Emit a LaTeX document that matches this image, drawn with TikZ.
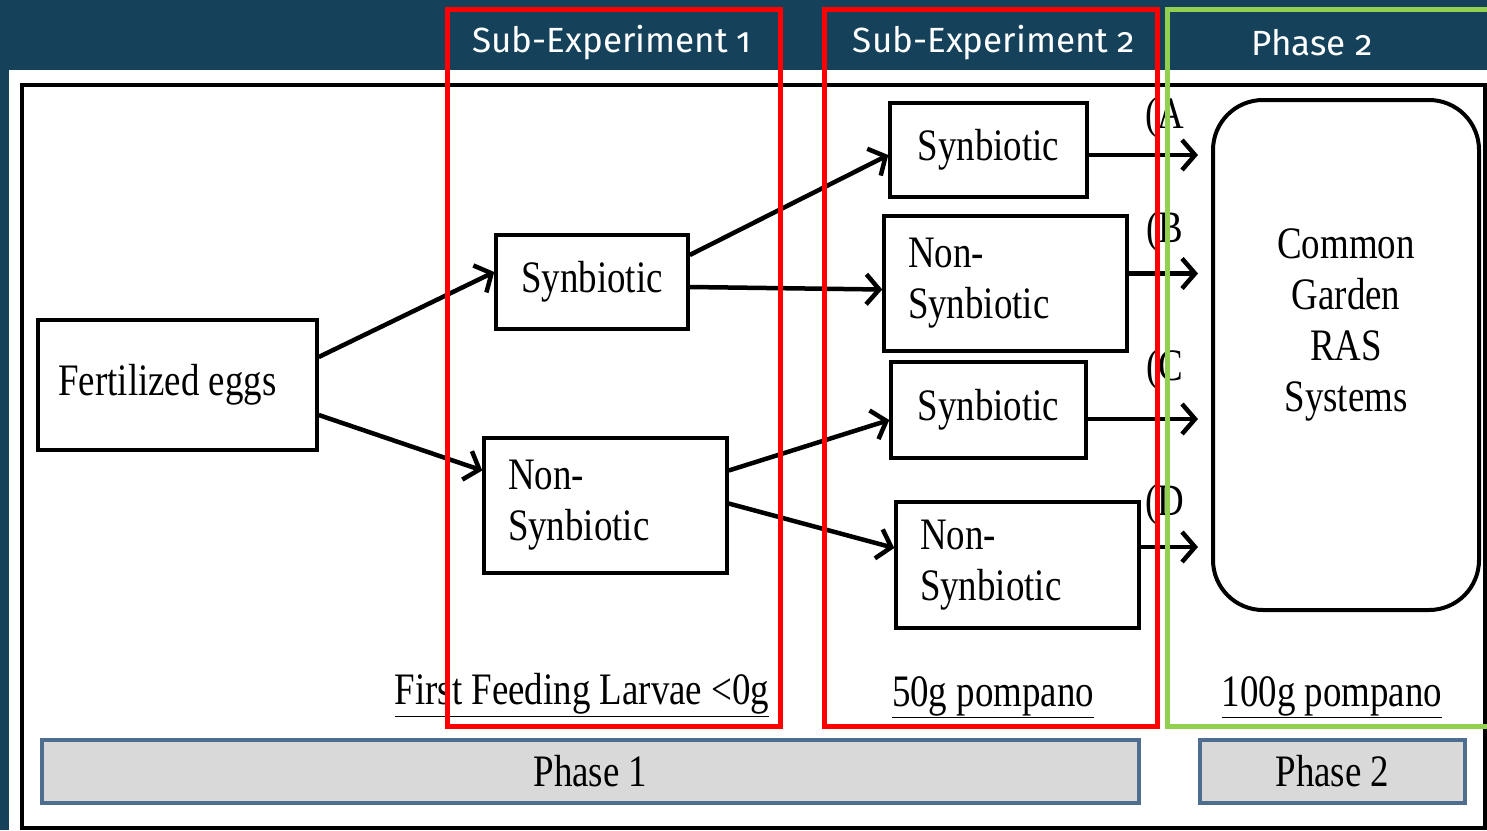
\documentclass[tikz,border=0pt]{standalone}
\usepackage{fontspec}
\setmainfont{Liberation Serif}
\newfontfamily\diagfont[FakeStretch=0.82]{Liberation Serif}
\newfontfamily\headfont[Numbers=OldStyle]{Fira Sans}
\usetikzlibrary{arrows.meta}
\definecolor{bandblue}{HTML}{15425A}
\definecolor{barline}{HTML}{4F6D8F}
\definecolor{barfill}{HTML}{D9D9D9}
\definecolor{phasegreen}{HTML}{92D050}
\begin{document}
\begin{tikzpicture}[x=1pt, y=-1pt,
  box/.style={draw, line width=3.5pt, inner sep=0pt, font=\diagfont\fontsize{45}{51}\selectfont},
  twoline/.style={box, align=left, inner xsep=24pt, text width=#1},
  arr/.style={line width=4.5pt, -{Straight Barb[length=13pt,width=30pt]}},
  bar/.style={draw=barline, fill=barfill, line width=4pt, inner sep=0pt, font=\diagfont\fontsize{45}{51}\selectfont},
  lbl/.style={font=\diagfont\fontsize{45}{51}\selectfont, inner sep=0pt},
  head/.style={text=white, font=\headfont\fontsize{35}{40}\selectfont, inner sep=0pt},
  frame/.style={draw=#1, line width=5pt}]

\useasboundingbox (0,0) rectangle (1487,830);
\clip (0,0) rectangle (1487,830);

% slide background
\fill[bandblue] (0,0) rectangle (1487,830);
\fill[white] (9,70) rectangle (1487,830);
\draw[line width=4pt] (22,85) rectangle (1485,828);

% boxes
\node[box, minimum width=279, minimum height=130] (eggs) at (177.5,385) {Fertilized eggs\hspace*{20pt}};
\node[box, minimum width=192, minimum height=94] (syn1) at (592,282) {Synbiotic};
\node[twoline=195, minimum height=135] (non1) at (605.5,505.5) {Non-\\Synbiotic};
\node[box, minimum width=197, minimum height=94] (synA) at (988.5,150) {Synbiotic};
\node[twoline=195, minimum height=135] (nonB) at (1005.5,283.5) {Non-\\Synbiotic};
\node[box, minimum width=195, minimum height=96] (synC) at (988.5,410) {Synbiotic};
\node[twoline=195, minimum height=126] (nonD) at (1017.5,565) {Non-\\Synbiotic};
\node[box, line width=4pt, rounded corners=50pt, minimum width=266, minimum height=510] (garden) at (1346,355) {};
\node[lbl, align=center] (gardentext) at (1346,325) {Common\\Garden\\RAS\\Systems};

% arrows
\draw[arr] ([yshift=28pt]eggs.east) -- ([yshift=10pt]syn1.west);
\draw[arr] ([yshift=-30pt]eggs.east) -- ([yshift=35pt]non1.west);
\draw[arr] ([yshift=27pt]syn1.east) -- ([yshift=-5pt]synA.west);
\draw[arr] ([yshift=-5pt]syn1.east) -- ([yshift=-6pt]nonB.west);
\draw[arr] ([yshift=35pt]non1.east) -- ([yshift=-10pt]synC.west);
\draw[arr] ([yshift=2pt]non1.east) -- ([yshift=17pt]nonD.west);
\foreach \src/\dy in {synA/-5,nonB/10,synC/-9,nonD/18}
  \draw[arr, shorten >=13pt] ([yshift=\dy pt]\src.east) -- ([yshift=\dy pt]\src.east -| garden.west);

% letters
\node[lbl] (la) at (1165,118) {(A};
\node[lbl] (lb) at (1165,232) {(B};
\node[lbl] (lc) at (1165,370) {(C};
\node[lbl] (ld) at (1165,505) {(D};

% sizes
\node[lbl] (size1) at (582,695) {\underline{First Feeding Larvae <0g}};
\node[lbl] (size2) at (993,697) {\underline{50g pompano}};
\node[lbl] (size3) at (1332,697) {\underline{100g pompano}};

% phase bars
\node[bar, minimum width=1097, minimum height=63] (phase1) at (590.5,771.5) {Phase 1};
\node[bar, minimum width=265, minimum height=63] (phase2) at (1332.5,771.5) {Phase 2};

% highlight frames
\draw[frame=red] (447,9) rectangle (780,726);
\draw[frame=red] (824,9) rectangle (1157,726);
\draw[frame=phasegreen] (1167,9) rectangle (1500,726);
\node[head] (h1) at (612,43) {Sub-Experiment 1};
\node[head] (h2) at (994,43) {Sub-Experiment 2};
\node[head] (h3) at (1312,43) {Phase 2};
\end{tikzpicture}
\end{document}
